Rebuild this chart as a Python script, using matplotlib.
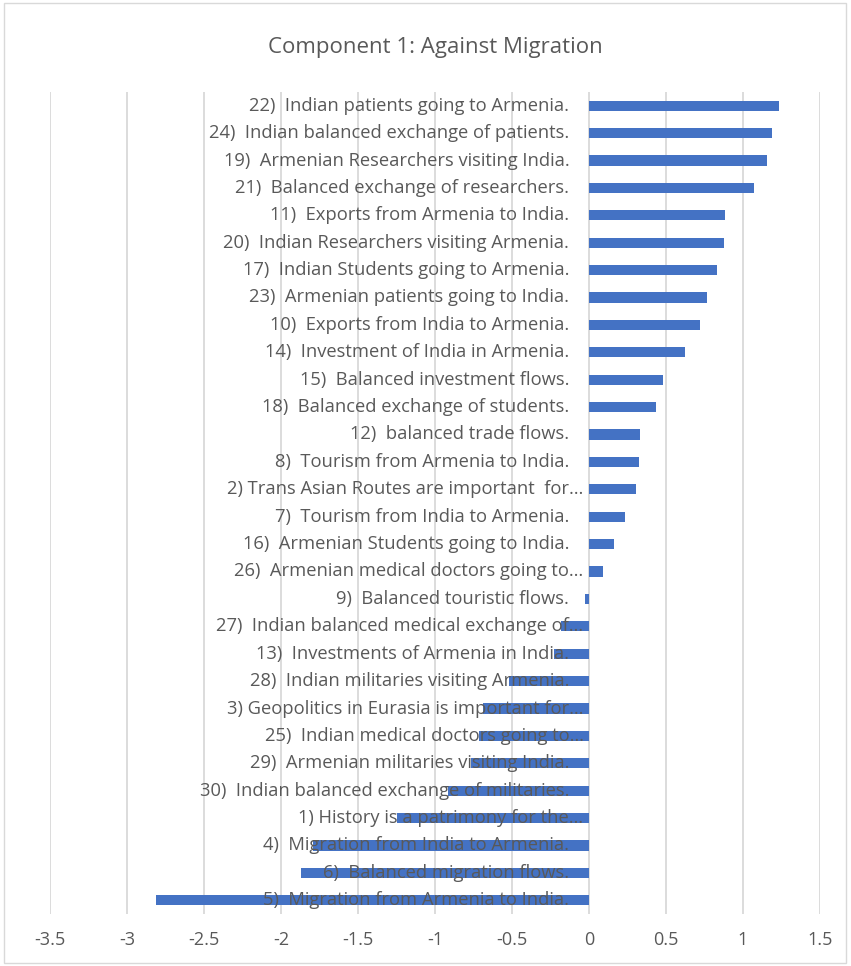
import numpy as np
import matplotlib.pyplot as plt
from matplotlib.patches import Rectangle

# items listed top to bottom as in the chart
labels = [
    "22)  Indian patients going to Armenia.",
    "24)  Indian balanced exchange of patients.",
    "19)  Armenian Researchers visiting India.",
    "21)  Balanced exchange of researchers.",
    "11)  Exports from Armenia to India.",
    "20)  Indian Researchers visiting Armenia.",
    "17)  Indian Students going to Armenia.",
    "23)  Armenian patients going to India.",
    "10)  Exports from India to Armenia.",
    "14)  Investment of India in Armenia.",
    "15)  Balanced investment flows.",
    "18)  Balanced exchange of students.",
    "12)  balanced trade flows.",
    "8)  Tourism from Armenia to India.",
    "2) Trans Asian Routes are important  for\u2026",
    "7)  Tourism from India to Armenia.",
    "16)  Armenian Students going to India.",
    "26)  Armenian medical doctors going to\u2026",
    "9)  Balanced touristic flows.",
    "27)  Indian balanced medical exchange of\u2026",
    "13)  Investments of Armenia in India.",
    "28)  Indian militaries visiting Armenia.",
    "3) Geopolitics in Eurasia is important for\u2026",
    "25)  Indian medical doctors going to\u2026",
    "29)  Armenian militaries visiting India.",
    "30)  Indian balanced exchange of militaries.",
    "1) History is a patrimony for the\u2026",
    "4)  Migration from India to Armenia.",
    "6)  Balanced migration flows.",
    "5)  Migration from Armenia to India.",
]
values = [
    1.237, 1.189, 1.157, 1.074, 0.885, 0.878, 0.830, 0.765, 0.720, 0.622,
    0.482, 0.435, 0.332, 0.326, 0.304, 0.235, 0.163, 0.089, -0.024, -0.185,
    -0.229, -0.518, -0.686, -0.715, -0.763, -0.915, -1.248, -1.790, -1.870, -2.810,
]
xticks = np.arange(-3.5, 1.51, 0.5)
xtick_labels = ["-3.5", "-3", "-2.5", "-2", "-1.5", "-1", "-0.5", "0", "0.5", "1", "1.5"]

W, H = 851, 966
plt.rcParams["font.family"] = ["Open Sans", "DejaVu Sans"]
fig = plt.figure(figsize=(W / 100, H / 100), dpi=100)
fig.patches.append(Rectangle((4 / W, 3 / H), 842 / W, 960 / H, transform=fig.transFigure,
                             fill=False, edgecolor="#d9d9d9", linewidth=1))

ax = fig.add_axes([50 / W, 1 - 914 / H, 770 / W, 822 / H])
y = np.arange(len(values))
ax.barh(y, values, height=0.37, color="#4472C4", zorder=2)

for i, lab in enumerate(labels):
    # full labels keep a little trailing room, truncated ones run to the edge
    txt = lab if lab.endswith("\u2026") else lab + "   "
    ax.text(-0.035, i, txt, ha="right", va="center", fontsize=13.2, color="#595959", zorder=3)

ax.set_xlim(-3.5, 1.5)
ax.set_ylim(len(values) - 0.5, -0.5)
ax.set_xticks(xticks)
ax.set_xticklabels(xtick_labels)
ax.set_yticks([])
ax.tick_params(axis="x", length=0, pad=12, labelsize=13, labelcolor="#595959")
ax.grid(axis="x", color="#d9d9d9", linewidth=1.3, zorder=0)
ax.set_axisbelow(True)
for s in ax.spines.values():
    s.set_visible(False)

fig.text(435 / W, 1 - 47 / H, "Component 1: Against Migration", ha="center", va="center",
         fontsize=16, color="#595959")

fig.savefig("out.png", dpi=100)
